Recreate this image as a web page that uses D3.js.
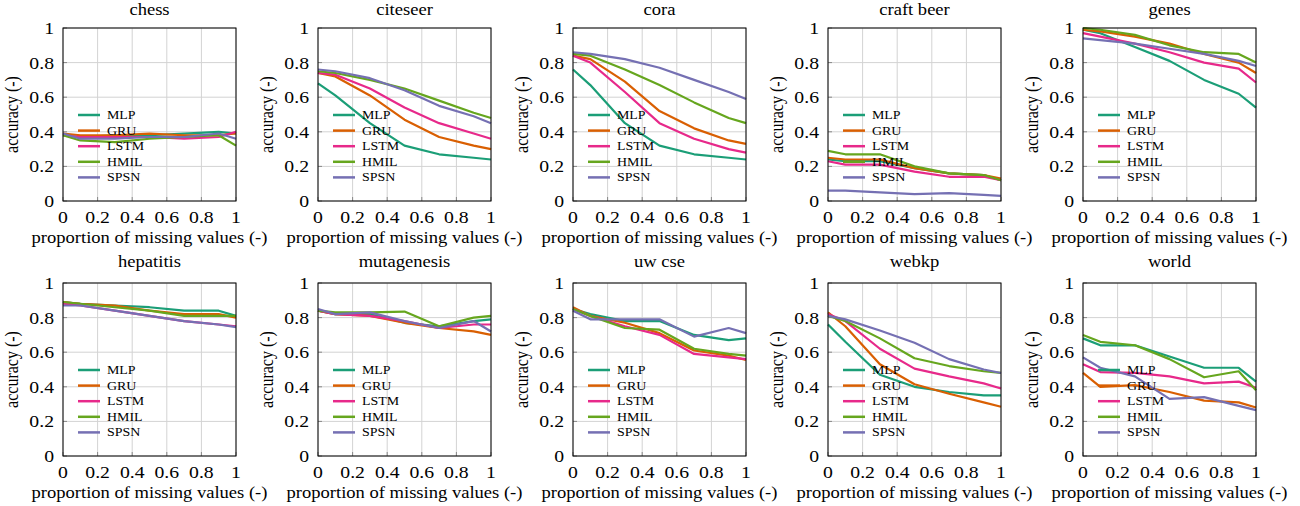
<!DOCTYPE html>
<html><head><meta charset="utf-8">
<script src="https://cdn.jsdelivr.net/npm/d3@7"></script>
<style>
body{margin:0;background:#fff;}
text{font-family:"Liberation Serif","Times New Roman",serif;fill:#000;}
</style>
</head><body>
<svg id="chart" width="1300" height="506"></svg>
<script>
// ---- data ----
const missing = [0, 0.1, 0.3, 0.5, 0.7, 0.9, 1];
const methods = ["MLP", "GRU", "LSTM", "HMIL", "SPSN"];
const methodColors = ["#1b9e77", "#d95f02", "#e7298a", "#66a61e", "#7570b3"];
const datasetNames = ["chess", "citeseer", "cora", "craft beer", "genes",
                      "hepatitis", "mutagenesis", "uw cse", "webkp", "world"];
const xTicks = [0, 0.2, 0.4, 0.6, 0.8, 1];
const yTicks = [0, 0.2, 0.4, 0.6, 0.8, 1];
const xTickLabels = ["0", "0.2", "0.4", "0.6", "0.8", "1"];
const yTickLabels = ["0", "0.2", "0.4", "0.6", "0.8", "1"];

// each dataset: rows in order MLP, GRU, LSTM, HMIL, SPSN
const chess = [
  [0.38, 0.37, 0.38, 0.38, 0.39, 0.40, 0.39],
  [0.39, 0.38, 0.38, 0.39, 0.38, 0.38, 0.39],
  [0.38, 0.37, 0.37, 0.37, 0.36, 0.37, 0.40],
  [0.38, 0.35, 0.34, 0.36, 0.37, 0.38, 0.32],
  [0.39, 0.36, 0.36, 0.37, 0.37, 0.39, 0.36]
];
const citeseer = [
  [0.68, 0.61, 0.45, 0.32, 0.27, 0.25, 0.24],
  [0.74, 0.72, 0.61, 0.47, 0.37, 0.32, 0.30],
  [0.74, 0.73, 0.65, 0.54, 0.45, 0.39, 0.36],
  [0.75, 0.74, 0.70, 0.65, 0.58, 0.51, 0.48],
  [0.76, 0.75, 0.71, 0.64, 0.55, 0.49, 0.45]
];
const cora = [
  [0.76, 0.67, 0.45, 0.32, 0.27, 0.25, 0.24],
  [0.84, 0.82, 0.69, 0.52, 0.42, 0.35, 0.33],
  [0.84, 0.80, 0.63, 0.45, 0.36, 0.30, 0.28],
  [0.85, 0.84, 0.76, 0.67, 0.57, 0.48, 0.45],
  [0.86, 0.85, 0.82, 0.77, 0.70, 0.63, 0.59]
];
const craftBeer = [
  [0.24, 0.23, 0.23, 0.19, 0.16, 0.15, 0.12],
  [0.25, 0.24, 0.24, 0.19, 0.16, 0.15, 0.13],
  [0.23, 0.21, 0.21, 0.17, 0.14, 0.14, 0.12],
  [0.29, 0.27, 0.27, 0.20, 0.16, 0.15, 0.12],
  [0.06, 0.06, 0.05, 0.04, 0.045, 0.035, 0.03]
];
const genes = [
  [0.99, 0.97, 0.89, 0.81, 0.70, 0.62, 0.54],
  [0.99, 0.98, 0.95, 0.91, 0.85, 0.80, 0.74],
  [0.97, 0.95, 0.91, 0.86, 0.80, 0.765, 0.685],
  [1.00, 0.99, 0.96, 0.90, 0.86, 0.85, 0.80],
  [0.94, 0.93, 0.91, 0.88, 0.85, 0.81, 0.78]
];
const hepatitis = [
  [0.89, 0.88, 0.87, 0.86, 0.84, 0.84, 0.81],
  [0.89, 0.88, 0.87, 0.84, 0.82, 0.82, 0.80],
  [0.88, 0.87, 0.84, 0.81, 0.78, 0.76, 0.75],
  [0.89, 0.88, 0.86, 0.84, 0.81, 0.81, 0.81],
  [0.87, 0.87, 0.84, 0.81, 0.78, 0.76, 0.745]
];
const mutagenesis = [
  [0.84, 0.82, 0.82, 0.77, 0.75, 0.78, 0.79],
  [0.84, 0.82, 0.81, 0.77, 0.74, 0.72, 0.70],
  [0.84, 0.82, 0.81, 0.78, 0.74, 0.76, 0.76],
  [0.84, 0.83, 0.83, 0.835, 0.75, 0.80, 0.81],
  [0.85, 0.82, 0.83, 0.78, 0.74, 0.78, 0.72]
];
const uwCse = [
  [0.85, 0.82, 0.78, 0.78, 0.70, 0.67, 0.68],
  [0.86, 0.81, 0.77, 0.71, 0.61, 0.58, 0.555],
  [0.85, 0.81, 0.75, 0.70, 0.59, 0.57, 0.56],
  [0.85, 0.81, 0.74, 0.73, 0.62, 0.59, 0.58],
  [0.84, 0.79, 0.79, 0.79, 0.69, 0.74, 0.71]
];
const webkp = [
  [0.76, 0.66, 0.47, 0.40, 0.37, 0.35, 0.35],
  [0.83, 0.75, 0.53, 0.415, 0.36, 0.31, 0.285],
  [0.82, 0.78, 0.62, 0.505, 0.46, 0.42, 0.39],
  [0.81, 0.78, 0.68, 0.565, 0.52, 0.49, 0.48],
  [0.81, 0.79, 0.725, 0.655, 0.56, 0.50, 0.48]
];
const world = [
  [0.68, 0.64, 0.64, 0.575, 0.51, 0.51, 0.43],
  [0.48, 0.40, 0.41, 0.37, 0.32, 0.31, 0.28],
  [0.53, 0.485, 0.48, 0.46, 0.42, 0.43, 0.395],
  [0.70, 0.66, 0.64, 0.56, 0.455, 0.49, 0.38],
  [0.57, 0.51, 0.46, 0.33, 0.34, 0.29, 0.265]
];
const allValues = [chess, citeseer, cora, craftBeer, genes,
                   hepatitis, mutagenesis, uwCse, webkp, world];

// ---- layout ----
const svg = d3.select("#chart");
const plotW = 173, plotH = 173;
const left0 = 63, top0 = 28, colStep = 255, rowStep = 255;
const SX = 1.16; // horizontal text stretch of reference

function stretchedText(g, x, y, str, size, anchor, rot) {
  return g.append("text")
    .attr("transform", `translate(${x},${y})` + (rot ? ` rotate(${rot}) scale(1,${SX})` : ` scale(${SX},1)`))
    .attr("text-anchor", anchor)
    .attr("font-family", "'Liberation Serif', 'Times New Roman', serif")
    .style("font-size", size + "px")
    .text(str);
}

datasetNames.forEach((name, i) => {
  const col = i % 5, row = Math.floor(i / 5);
  const ox = left0 + col * colStep, oy = top0 + row * rowStep;
  const g = svg.append("g").attr("transform", `translate(${ox},${oy})`);
  const x = d3.scaleLinear().domain([0, 1]).range([0, plotW]);
  const y = d3.scaleLinear().domain([0, 1]).range([plotH, 0]);

  // grid
  g.append("g").selectAll("line").data(xTicks).join("line")
    .attr("x1", d => x(d)).attr("x2", d => x(d)).attr("y1", 0).attr("y2", plotH)
    .attr("stroke", "#d3d3d3").attr("stroke-width", 1);
  g.append("g").selectAll("line").data(yTicks).join("line")
    .attr("y1", d => y(d)).attr("y2", d => y(d)).attr("x1", 0).attr("x2", plotW)
    .attr("stroke", "#d3d3d3").attr("stroke-width", 1);

  // small inward ticks
  const tk = 4;
  g.append("g").selectAll("line").data(yTicks).join("line")
    .attr("x1", 0).attr("x2", tk).attr("y1", d => y(d)).attr("y2", d => y(d))
    .attr("stroke", "#888");
  g.append("g").selectAll("line").data(xTicks).join("line")
    .attr("x1", d => x(d)).attr("x2", d => x(d)).attr("y1", plotH).attr("y2", plotH - tk)
    .attr("stroke", "#888");

  // lines
  const line = d3.line().x((d, k) => x(missing[k])).y(d => y(d));
  allValues[i].forEach((series, m) => {
    g.append("path").datum(series)
      .attr("d", line)
      .attr("fill", "none")
      .attr("stroke", methodColors[m])
      .attr("stroke-width", 2.2)
      .attr("stroke-linejoin", "round");
  });

  // frame
  g.append("rect").attr("x", 0).attr("y", 0).attr("width", plotW).attr("height", plotH)
    .attr("fill", "none").attr("stroke", "#000").attr("stroke-width", 1);

  // axes labels
  xTicks.forEach((t, k) => stretchedText(g, x(t), plotH + 22, xTickLabels[k], 17, "middle"));
  yTicks.forEach((t, k) => stretchedText(g, -9, y(t) + 6, yTickLabels[k], 17, "end"));
  stretchedText(g, plotW / 2, plotH + 42, "proportion of missing values (-)", 16, "middle");
  stretchedText(g, -45, plotH / 2, "accuracy (-)", 16, "middle", -90);
  stretchedText(g, plotW / 2, row === 0 ? -13 : -16, name, 16, "middle");

  // legend
  methods.forEach((mName, m) => {
    const ly = 87 + m * 15.6;
    g.append("line").attr("x1", 15).attr("x2", 37).attr("y1", ly).attr("y2", ly)
      .attr("stroke", methodColors[m]).attr("stroke-width", 2.5);
    stretchedText(g, 44, ly + 4, mName, 12, "start");
  });
});
</script>
</body></html>
